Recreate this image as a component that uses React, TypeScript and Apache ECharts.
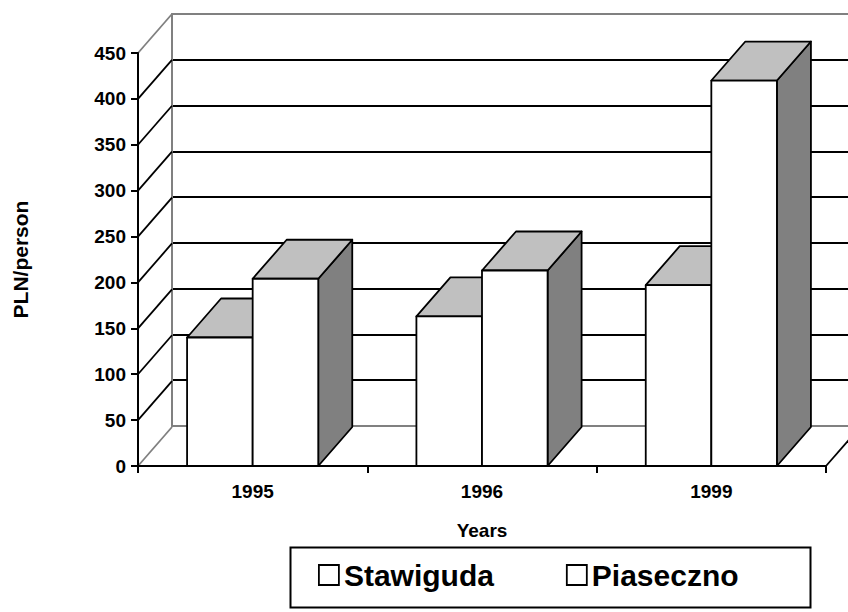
import React, { useEffect, useRef } from "react";
import * as echarts from "echarts";

const categories = ["1995", "1996", "1999"];
const stawiguda = [140, 163, 197];
const piaseczno = [204, 213, 420];
const yTicks = [0, 50, 100, 150, 200, 250, 300, 350, 400, 450];

const DX = 34;
const DY = -39;
const BAR_FRAC = 0.286;
const FONT = "'Liberation Sans', Arial, sans-serif";

function barRenderer(offset: number) {
  return (params: any, api: any) => {
    const ci = api.value(0);
    const v = api.value(1);
    const top = api.coord([ci, v]);
    const base = api.coord([ci, 0]);
    const cw = api.size([1, 0])[0];
    const bw = cw * BAR_FRAC;
    const x0 = top[0] + offset * bw;
    const x1 = x0 + bw;
    const yt = top[1];
    const yb = base[1];
    const stroke = { stroke: "#000", lineWidth: 1.8, lineJoin: "round" };
    return {
      type: "group",
      children: [
        {
          type: "polygon",
          shape: { points: [[x1, yt], [x1 + DX, yt + DY], [x1 + DX, yb + DY], [x1, yb]] },
          style: { fill: "#808080", ...stroke },
        },
        {
          type: "polygon",
          shape: { points: [[x0, yt], [x0 + DX, yt + DY], [x1 + DX, yt + DY], [x1, yt]] },
          style: { fill: "#c0c0c0", ...stroke },
        },
        {
          type: "rect",
          shape: { x: x0, y: yt, width: bw, height: yb - yt },
          style: { fill: "#ffffff", ...stroke },
        },
      ],
    };
  };
}

function wallRenderer(params: any, api: any) {
  const v = api.value(0);
  const p = api.coord([0, v]);
  const cw = api.size([1, 0])[0];
  const xl = p[0] - cw / 2;
  const y = p[1];
  const edge = v === 0 || v === 450;
  const children: any[] = [
    {
      type: "line",
      shape: { x1: xl, y1: y, x2: xl + DX, y2: y + DY },
      style: { stroke: edge ? "#808080" : "#000", lineWidth: 1.8 },
    },
  ];
  if (v === 0) {
    const xr = xl + cw * categories.length;
    children.push({
      type: "line",
      shape: { x1: xr, y1: y, x2: xr + DX, y2: y + DY },
      style: { stroke: "#000", lineWidth: 1.8 },
    });
  }
  return { type: "group", children };
}

export default function App() {
  const ref = useRef<HTMLDivElement>(null);
  useEffect(() => {
    if (!ref.current) return;
    const chart = echarts.init(ref.current, null, { renderer: "svg" });
    const bold = { fontFamily: FONT, fontWeight: "bold" as const, color: "#000" };
    chart.setOption({
      animation: false,
      backgroundColor: "#ffffff",
      grid: [
        { left: 138, top: 53, width: 688, height: 413 },
        { left: 172, top: 14, width: 688, height: 412 },
      ],
      xAxis: [
        {
          gridIndex: 0,
          type: "category",
          data: categories,
          axisLine: { show: true, lineStyle: { color: "#000", width: 2 } },
          axisTick: { show: true, length: 7, lineStyle: { color: "#000", width: 2 } },
          axisLabel: { ...bold, fontSize: 19, margin: 16 },
          name: "Years",
          nameLocation: "middle",
          nameGap: 55,
          nameTextStyle: { ...bold, fontSize: 19 },
          z: 5,
        },
        {
          gridIndex: 1,
          type: "category",
          data: categories,
          axisLine: { show: true, lineStyle: { color: "#808080", width: 2 } },
          axisTick: { show: false },
          axisLabel: { show: false },
        },
        {
          gridIndex: 1,
          type: "category",
          position: "top",
          data: categories,
          axisLine: { show: true, lineStyle: { color: "#808080", width: 2 } },
          axisTick: { show: false },
          axisLabel: { show: false },
        },
      ],
      yAxis: [
        {
          gridIndex: 0,
          type: "value",
          min: 0,
          max: 450,
          interval: 50,
          axisLine: { show: true, lineStyle: { color: "#000", width: 2 } },
          axisTick: { show: true, length: 7, lineStyle: { color: "#000", width: 2 } },
          axisLabel: { ...bold, fontSize: 19, margin: 12 },
          splitLine: { show: false },
          name: "PLN/person",
          nameLocation: "middle",
          nameRotate: 90,
          nameGap: 107,
          nameTextStyle: { ...bold, fontSize: 21 },
          z: 5,
        },
        {
          gridIndex: 1,
          type: "value",
          min: 0,
          max: 450,
          interval: 50,
          axisLine: { show: true, lineStyle: { color: "#808080", width: 2 } },
          axisTick: { show: false },
          axisLabel: { show: false },
          splitLine: {
            show: true,
            showMinLine: false,
            showMaxLine: false,
            lineStyle: { color: "#000", width: 1.8 },
          },
        },
      ],
      legend: {
        data: [
          { name: "Stawiguda", icon: "rect", itemStyle: { color: "#fff", borderColor: "#000", borderWidth: 1.8 } },
          { name: "Piaseczno", icon: "rect", itemStyle: { color: "#fff", borderColor: "#000", borderWidth: 1.8 } },
        ],
        left: 318,
        top: 560,
        padding: 0,
        itemWidth: 20,
        itemHeight: 20,
        itemGap: 72,
        textStyle: { ...bold, fontSize: 30 },
        selectedMode: false,
      },
      graphic: [
        {
          type: "rect",
          left: 288,
          top: 545,
          shape: { width: 520, height: 60 },
          style: { fill: "none", stroke: "#000", lineWidth: 2 },
        },
      ],
      series: [
        {
          name: "wall",
          type: "custom",
          xAxisIndex: 0,
          yAxisIndex: 0,
          z: 1,
          silent: true,
          renderItem: wallRenderer,
          data: yTicks.map((v) => [v]),
          encode: { y: 0 },
        },
        {
          name: "Stawiguda",
          type: "custom",
          xAxisIndex: 0,
          yAxisIndex: 0,
          z: 3,
          renderItem: barRenderer(-1),
          itemStyle: { color: "#fff", borderColor: "#000" },
          data: stawiguda.map((v, i) => [i, v]),
          encode: { x: 0, y: 1 },
        },
        {
          name: "Piaseczno",
          type: "custom",
          xAxisIndex: 0,
          yAxisIndex: 0,
          z: 4,
          renderItem: barRenderer(0),
          itemStyle: { color: "#fff", borderColor: "#000" },
          data: piaseczno.map((v, i) => [i, v]),
          encode: { x: 0, y: 1 },
        },
      ],
    });
    return () => chart.dispose();
  }, []);
  return (
    <div
      ref={ref}
      style={{ position: "absolute", left: 0, top: 0, width: 848, height: 612 }}
    />
  );
}
